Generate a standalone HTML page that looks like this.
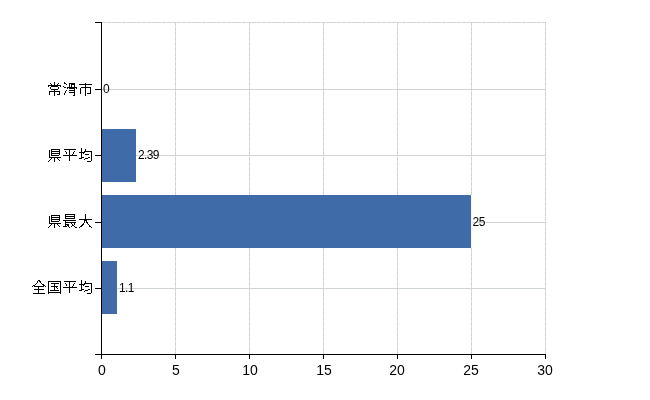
<!DOCTYPE html>
<html lang="ja">
<head>
<meta charset="utf-8">
<title>chart</title>
<style>
html,body{margin:0;padding:0;background:#fff;}
body{width:650px;height:400px;position:relative;overflow:hidden;font-family:"Liberation Sans","IPAGothic","Noto Sans CJK JP",sans-serif;color:#000;}
.abs{position:absolute;}
.ax{position:absolute;background:#000;}
.hg{position:absolute;left:102px;width:444px;height:1px;background:#cfd6cf;}
.vg{position:absolute;top:22px;width:1px;height:332px;background:repeating-linear-gradient(to bottom,#cfd4cf 0,#cfd4cf 4px,#f6e2f6 4px,#f6e2f6 5px);}
.hgd{position:absolute;left:102px;top:22px;width:444px;height:1px;background:repeating-linear-gradient(to right,#cfd4cf 0,#cfd4cf 4px,#f6e2f6 4px,#f6e2f6 5px);}
.bar{position:absolute;left:102px;height:53px;background:#3f6ba8;}
.cat{transform:scaleY(0.9);transform-origin:50% 50%;filter:url(#thr);position:absolute;left:0;width:93.5px;letter-spacing:0.5px;text-align:right;font-weight:100;font-family:"Liberation Sans","Noto Sans CJK JP",sans-serif;font-size:15px;line-height:16px;height:16px;white-space:nowrap;}
.val{position:absolute;font-size:12px;line-height:12px;height:12px;white-space:nowrap;letter-spacing:-0.3px;}
.xl{position:absolute;top:362px;width:40px;text-align:center;font-size:14px;line-height:16px;height:16px;}
</style>
</head>
<body>
<svg width="0" height="0" style="position:absolute"><defs><filter id="thr" x="0" y="0" width="100%" height="100%" color-interpolation-filters="sRGB"><feComponentTransfer><feFuncA type="discrete" tableValues="0 1 1 1"/></feComponentTransfer></filter></defs></svg>
<!-- gridlines -->
<div class="hgd"></div>
<div class="hg" style="top:89px"></div>
<div class="hg" style="top:155px"></div>
<div class="hg" style="top:222px"></div>
<div class="hg" style="top:288px"></div>
<div class="vg" style="left:175px"></div>
<div class="vg" style="left:249px"></div>
<div class="vg" style="left:323px"></div>
<div class="vg" style="left:397px"></div>
<div class="vg" style="left:471px"></div>
<div class="vg" style="left:545px"></div>

<!-- bars -->
<div class="bar" style="top:129px;width:34px"></div>
<div class="bar" style="top:195px;width:369px;border-right:1px solid #f3f8f7"></div>
<div class="bar" style="top:261px;width:15px"></div>

<!-- axes -->
<div class="ax" style="left:101px;top:22px;width:1px;height:333px"></div>
<div class="ax" style="left:95px;top:354px;width:451px;height:1px"></div>
<!-- y ticks -->
<div class="ax" style="left:95px;top:22px;width:6px;height:1px"></div>
<div class="ax" style="left:95px;top:89px;width:6px;height:1px"></div>
<div class="ax" style="left:95px;top:155px;width:6px;height:1px"></div>
<div class="ax" style="left:95px;top:222px;width:6px;height:1px"></div>
<div class="ax" style="left:95px;top:288px;width:6px;height:1px"></div>
<!-- x ticks -->
<div class="ax" style="left:101px;top:354px;width:1px;height:5px"></div>
<div class="ax" style="left:175px;top:354px;width:1px;height:5px"></div>
<div class="ax" style="left:249px;top:354px;width:1px;height:5px"></div>
<div class="ax" style="left:323px;top:354px;width:1px;height:5px"></div>
<div class="ax" style="left:397px;top:354px;width:1px;height:5px"></div>
<div class="ax" style="left:471px;top:354px;width:1px;height:5px"></div>
<div class="ax" style="left:545px;top:354px;width:1px;height:5px"></div>

<!-- category labels -->
<div class="cat" style="top:81px">常滑市</div>
<div class="cat" style="top:147px">県平均</div>
<div class="cat" style="top:213px">県最大</div>
<div class="cat" style="top:280px">全国平均</div>

<!-- value labels -->
<div class="val" style="left:103px;top:83px">0</div>
<div class="val" style="left:138px;top:149px;letter-spacing:-0.65px">2.39</div>
<div class="val" style="left:472.5px;top:216px">25</div>
<div class="val" style="left:119px;top:282px;letter-spacing:-0.6px">1.1</div>

<!-- x labels -->
<div class="xl" style="left:82px">0</div>
<div class="xl" style="left:156px">5</div>
<div class="xl" style="left:230px">10</div>
<div class="xl" style="left:304px">15</div>
<div class="xl" style="left:377px">20</div>
<div class="xl" style="left:451px">25</div>
<div class="xl" style="left:525px">30</div>
</body>
</html>
